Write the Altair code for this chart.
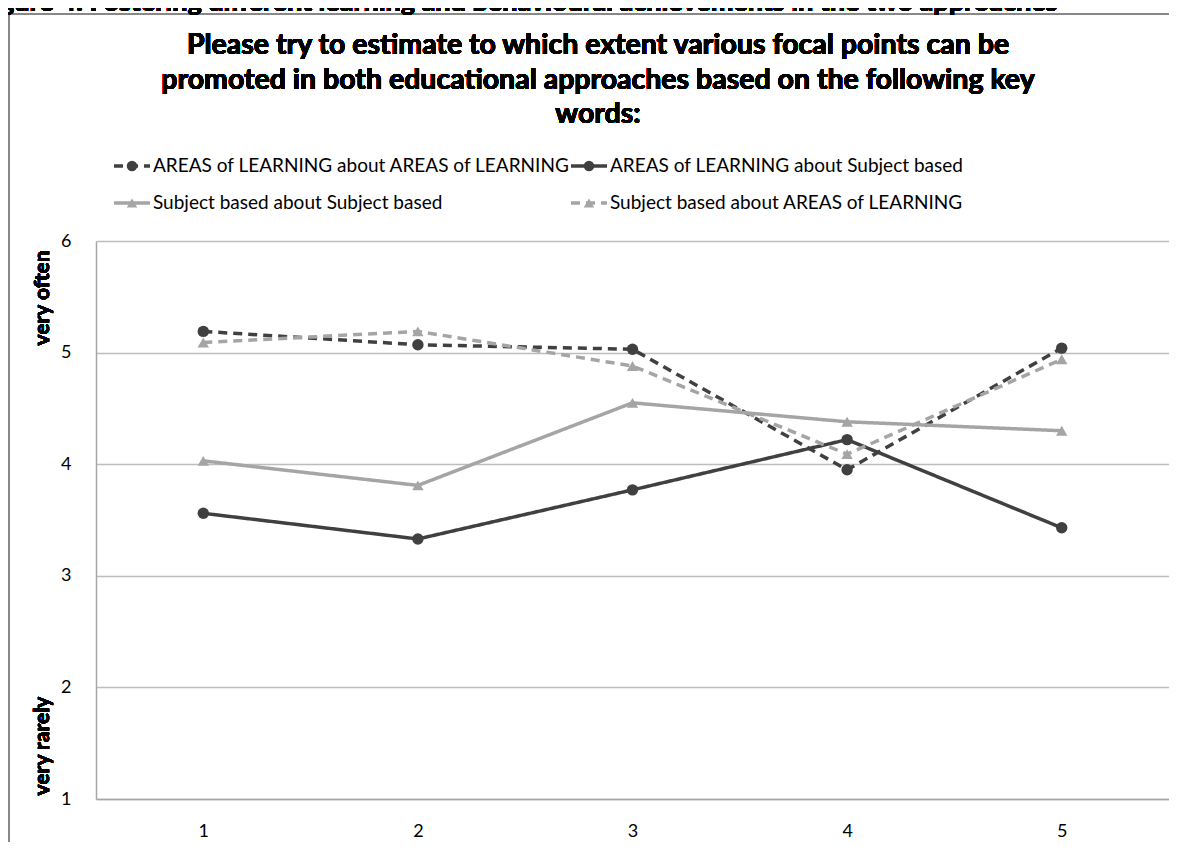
import altair as alt
import pandas as pd

# ---- data ----
categories = [1, 2, 3, 4, 5]
series_names = [
    "AREAS of LEARNING about AREAS of LEARNING",
    "AREAS of LEARNING about  Subject based",
    "Subject based about Subject based",
    "Subject based about AREAS of LEARNING",
]
areas_about_areas = [5.19, 5.07, 5.03, 3.95, 5.04]
areas_about_subject = [3.56, 3.33, 3.77, 4.22, 3.43]
subject_about_subject = [4.03, 3.81, 4.55, 4.38, 4.30]
subject_about_areas = [5.09, 5.19, 4.88, 4.09, 4.94]
y_ticks = [1, 2, 3, 4, 5, 6]

title_lines = [
    "Please try to estimate to which extent various focal points can be",
    "promoted in both educational approaches based on the following key",
    "words:",
]
caption = "Figure 4: Fostering different learning and behavioural achievements in the two approaches"

# ---- styles ----
DARK = "#404040"
LIGHT = "#a5a5a5"
colors = [DARK, DARK, LIGHT, LIGHT]
dashes = [[17, 13], [1, 0], [1, 0], [17, 13]]
shapes = ["circle", "circle", "triangle-up", "triangle-up"]
sizes = [130, 130, 170, 170]
FONT = "Lato"

W, H = 1073, 558

values = [areas_about_areas, areas_about_subject, subject_about_subject, subject_about_areas]
rows = []
for name, vals in zip(series_names, values):
    for c, v in zip(categories, vals):
        rows.append({"series": name, "cat": c, "value": v})
df = pd.DataFrame(rows)

color_scale = alt.Scale(domain=series_names, range=colors)
dash_scale = alt.Scale(domain=series_names, range=dashes)
shape_scale = alt.Scale(domain=series_names, range=shapes)

x_enc = alt.X("cat:Q", scale=alt.Scale(domain=[0.5, 5.5], nice=False, zero=False),
              axis=alt.Axis(values=categories, format="d", title=None, grid=False, ticks=False,
                            labelFontSize=18, labelFont=FONT, labelColor="#000000",
                            labelPadding=23, domainColor="#a6a6a6", domainWidth=1.5))
y_enc = alt.Y("value:Q", scale=alt.Scale(domain=[1, 6], nice=False, zero=False),
              axis=alt.Axis(values=y_ticks, format="d", title=None, grid=True, ticks=False,
                            gridColor="#bdbdbd", gridWidth=1.5,
                            labelFontSize=18, labelFont=FONT, labelColor="#000000",
                            labelPadding=25, domainColor="#a6a6a6", domainWidth=1.5))

base = alt.Chart(df)
lines = base.mark_line(strokeWidth=3.5).encode(
    x=x_enc, y=y_enc,
    color=alt.Color("series:N", scale=color_scale, legend=None),
    strokeDash=alt.StrokeDash("series:N", scale=dash_scale, legend=None),
    detail="series:N",
)
points = base.mark_point(filled=True, opacity=1).encode(
    x="cat:Q", y="value:Q",
    color=alt.Color("series:N", scale=color_scale, legend=None),
    shape=alt.Shape("series:N", scale=shape_scale, legend=None),
    size=alt.Size("series:N", scale=alt.Scale(domain=series_names, range=sizes), legend=None),
)

# ---- manual legend (layout positions in pixels, relative to plot origin) ----
leg_rows = []
for i, name in enumerate(series_names):
    col, row = i % 2, i // 2
    sx = [18, 475][col]
    leg_rows.append({
        "series": name,
        "sx": sx, "sx2": sx + 36, "mx": sx + 18, "lx": sx + 39,
        "ly": [-75, -38][row],
    })
leg = pd.DataFrame(leg_rows)
leg_base = alt.Chart(leg)
leg_lines = leg_base.mark_rule(strokeWidth=3.5).encode(
    x=alt.X("sx:Q", scale=None), x2="sx2:Q", y=alt.Y("ly:Q", scale=None),
    color=alt.Color("series:N", scale=color_scale, legend=None),
    strokeDash=alt.StrokeDash("series:N", scale=alt.Scale(domain=series_names,
                               range=[[9, 6], [1, 0], [1, 0], [9, 6]]), legend=None),
)
leg_pts = leg_base.mark_point(filled=True, opacity=1, size=110).encode(
    x=alt.X("mx:Q", scale=None), y=alt.Y("ly:Q", scale=None),
    color=alt.Color("series:N", scale=color_scale, legend=None),
    shape=alt.Shape("series:N", scale=shape_scale, legend=None),
)
leg_text = leg_base.mark_text(align="left", baseline="middle", fontSize=19, font=FONT,
                              color="#000000").encode(
    x=alt.X("lx:Q", scale=None), y=alt.Y("ly:Q", scale=None), text="series:N",
)

# ---- titles / annotations ----
title = alt.Chart(df).mark_text(
    text=title_lines, align="center", baseline="alphabetic", fontSize=28.5, font=FONT,
    fontWeight="bold", lineHeight=34.5, color="#000000",
).encode(x=alt.value(502), y=alt.value(-187))

cap = alt.Chart(df).mark_text(
    text=caption, align="left", baseline="alphabetic", fontSize=27, font=FONT,
    fontWeight="bold", color="#000000",
).encode(x=alt.value(-118), y=alt.value(-230))

often = alt.Chart(df).mark_text(
    text="very often", angle=270, align="center", baseline="middle", fontSize=21,
    font=FONT, fontWeight="bold", color="#000000",
).encode(x=alt.value(-53), y=alt.value(57))
rarely = alt.Chart(df).mark_text(
    text="very rarely", angle=270, align="center", baseline="middle", fontSize=21,
    font=FONT, fontWeight="bold", color="#000000",
).encode(x=alt.value(-53), y=alt.value(505))

# ---- outer frame ----
frame_left = alt.Chart(df).mark_rule(color="#888888", strokeWidth=1.5).encode(
    x=alt.value(-87), y=alt.value(-227), y2=alt.value(610))
frame_top = alt.Chart(df).mark_rule(color="#888888", strokeWidth=1.5).encode(
    x=alt.value(-87), x2=alt.value(W + 10), y=alt.value(-227))

chart = alt.layer(
    frame_left, frame_top, cap, title, often, rarely,
    leg_lines, leg_pts, leg_text,
    lines, points,
).properties(
    width=W, height=H,
    autosize=alt.AutoSizeParams(type="none"),
    padding={"left": 88, "top": 233, "right": 0, "bottom": 43},
    background="#ffffff",
).configure_view(stroke=None)

chart.save("out.html", embed_options={"renderer": "svg", "actions": False})
